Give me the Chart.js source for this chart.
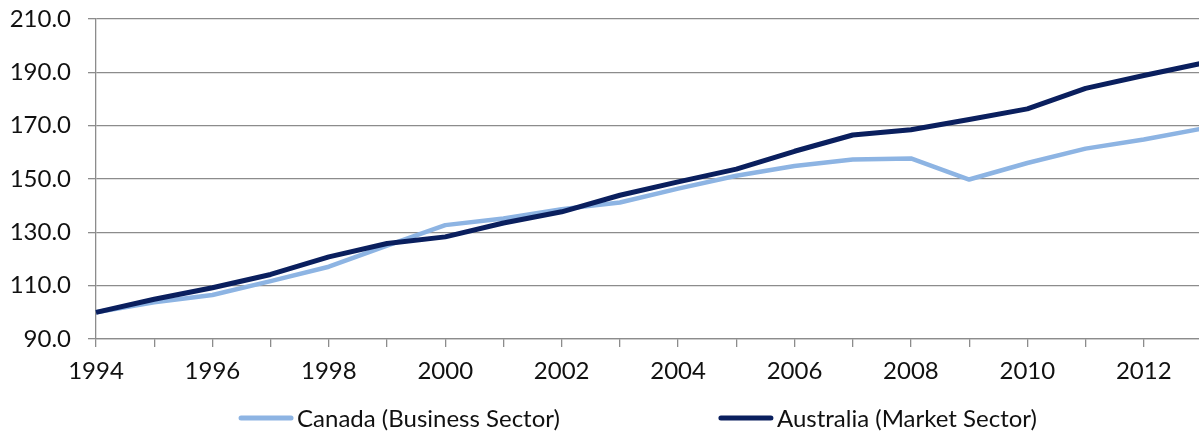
<!DOCTYPE html>
<html>
<head>
<meta charset="utf-8">
<script src="https://cdn.jsdelivr.net/npm/chart.js@4.4.1/dist/chart.umd.min.js"></script>
<style>
  html, body { margin: 0; padding: 0; background: #fff; overflow: hidden; }
  #wrap { width: 1199px; height: 434px; overflow: hidden; }
</style>
</head>
<body>
<div id="wrap"><canvas id="productivityChart" width="1203" height="434"></canvas></div>
<script>
// Index, 1994 = 100
const years = ['1994', '1995', '1996', '1997', '1998', '1999', '2000', '2001', '2002', '2003',
               '2004', '2005', '2006', '2007', '2008', '2009', '2010', '2011', '2012', '2013'];
const canada = [100.0, 103.8, 106.5, 111.7, 117.1, 125.0, 132.7, 135.2, 138.7, 141.2,
                146.4, 151.2, 154.9, 157.3, 157.7, 149.8, 156.0, 161.4, 164.8, 168.9];
const australia = [100.0, 104.9, 109.2, 114.2, 120.8, 125.8, 128.3, 133.5, 137.7, 143.9,
                   148.9, 153.7, 160.4, 166.5, 168.5, 172.3, 176.3, 184.0, 188.8, 193.4];
const seriesLabels = ['Canada (Business Sector)', 'Australia (Market Sector)'];
const yTicks = [90, 110, 130, 150, 170, 190, 210];

const FONT = 'Lato';
const FONT_SIZE = 24;
const TEXT = '#111111';
const GRID = '#8c8c8c';

// legend drawn under the plot area, centred on it (line sample + label)
const bottomLegend = {
    id: 'bottomLegend',
    afterDraw(chart) {
        const ctx = chart.ctx;
        const area = chart.chartArea;
        const sampleW = 54, gap = 4, itemGap = 159;
        ctx.save();
        ctx.font = FONT_SIZE + 'px ' + FONT;
        ctx.textBaseline = 'middle';
        ctx.textAlign = 'left';
        const items = chart.data.datasets.map(ds => ({
            ds, w: sampleW + gap + ctx.measureText(ds.label).width
        }));
        const total = items.reduce((s, it) => s + it.w, 0) + itemGap * (items.length - 1);
        let x = (area.left + area.right) / 2 - total / 2 - 11;
        const y = chart.height - 16;
        items.forEach(it => {
            ctx.strokeStyle = it.ds.borderColor;
            ctx.lineWidth = 5;
            ctx.lineCap = 'round';
            ctx.beginPath();
            ctx.moveTo(x + 2, y);
            ctx.lineTo(x + sampleW - 2, y);
            ctx.stroke();
            ctx.fillStyle = TEXT;
            ctx.fillText(it.ds.label, x + sampleW + gap, y + 1);
            x += it.w + itemGap;
        });
        ctx.restore();
    }
};

new Chart(document.getElementById('productivityChart'), {
    type: 'line',
    data: {
        labels: years,
        datasets: [{
            label: seriesLabels[0],
            data: canada,
            borderColor: '#8db4e3',
            borderWidth: 4.5,
            pointRadius: 0,
            tension: 0,
            borderJoinStyle: 'round',
            order: 1
        }, {
            label: seriesLabels[1],
            data: australia,
            borderColor: '#0a1f5e',
            borderWidth: 5,
            pointRadius: 0,
            tension: 0,
            borderJoinStyle: 'round',
            order: 0
        }]
    },
    options: {
        responsive: false,
        animation: false,
        layout: { padding: { top: 19, right: 1, bottom: 45, left: 0 } },
        scales: {
            x: {
                type: 'category',
                offset: false,
                grid: {
                    drawOnChartArea: false,
                    drawTicks: true,
                    tickLength: 8,
                    color: GRID,
                    lineWidth: 1.3
                },
                border: { color: GRID, width: 1.3 },
                ticks: {
                    autoSkip: false,
                    maxRotation: 0,
                    padding: 10,
                    color: TEXT,
                    font: { family: FONT, size: FONT_SIZE },
                    callback: function (value, index) {
                        return index % 2 === 0 ? this.getLabelForValue(value) : '';
                    }
                },
                afterFit: scale => {
                    scale.height = 50;
                    scale.paddingLeft = 0;
                    scale.paddingRight = 0;
                }
            },
            y: {
                min: 90,
                max: 210,
                afterBuildTicks: scale => { scale.ticks = yTicks.map(v => ({ value: v })); },
                grid: {
                    color: GRID,
                    lineWidth: 1.3,
                    drawTicks: true,
                    tickLength: 8
                },
                border: { color: GRID, width: 1.3 },
                ticks: {
                    padding: 17,
                    color: TEXT,
                    font: { family: FONT, size: FONT_SIZE },
                    callback: v => v.toFixed(1)
                },
                afterFit: scale => {
                    scale.width = 96;
                    scale.paddingTop = 0;
                    scale.paddingBottom = 0;
                }
            }
        },
        plugins: {
            legend: { display: false },
            tooltip: { enabled: false }
        }
    },
    plugins: [bottomLegend]
});
</script>
</body>
</html>
